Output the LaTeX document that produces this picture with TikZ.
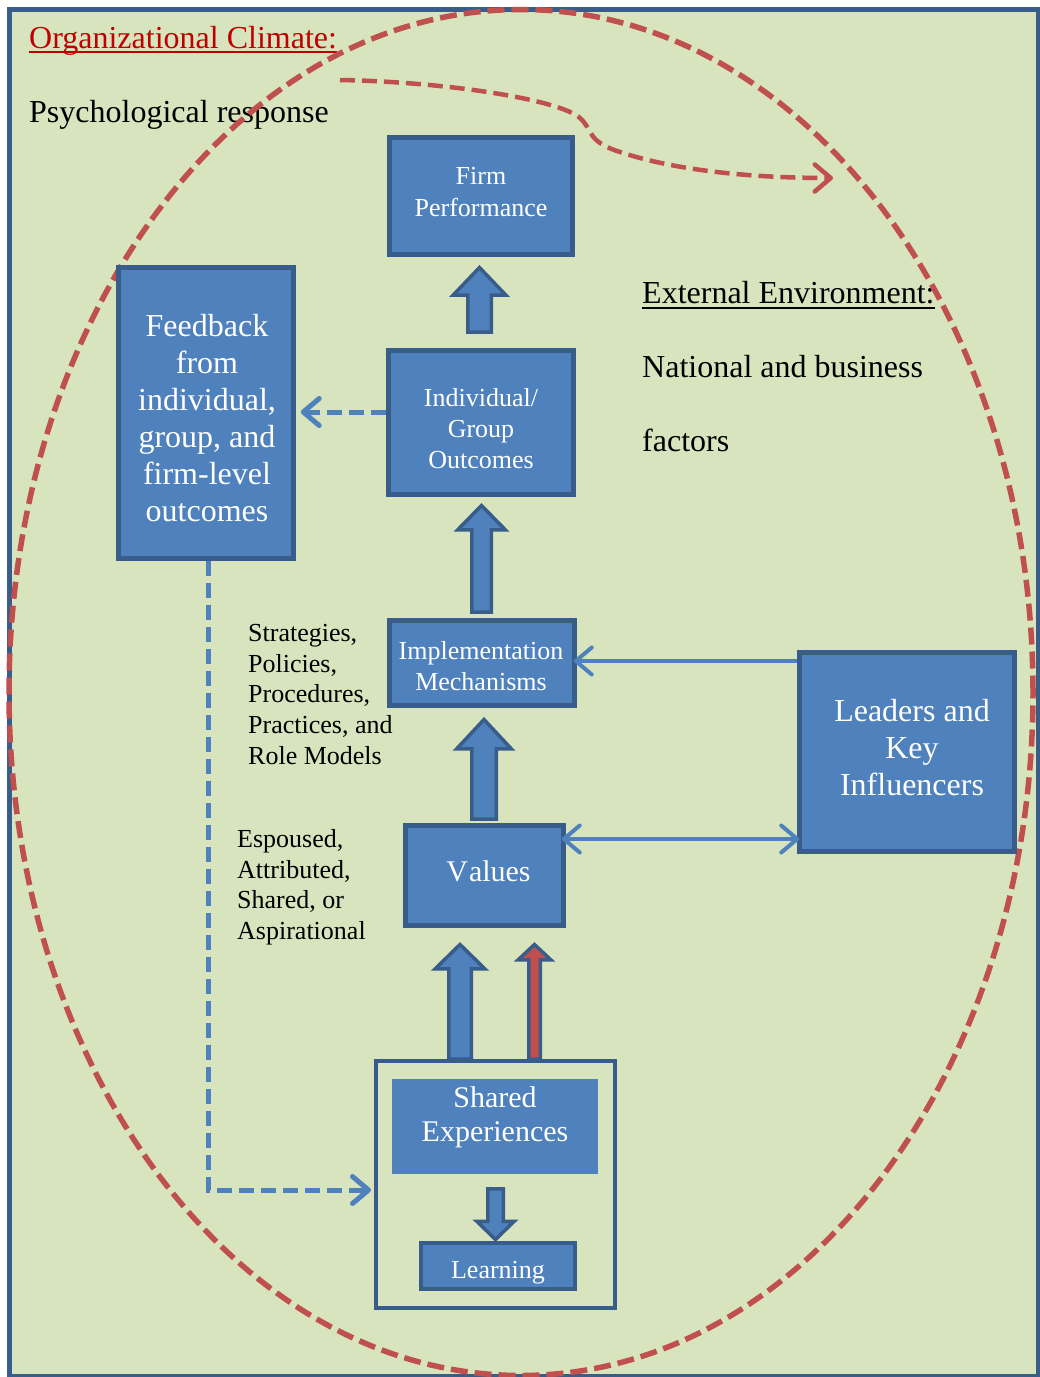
\documentclass[tikz,border=0pt]{standalone}
\usepackage{fontspec}
\setmainfont{Liberation Serif}
\usetikzlibrary{arrows.meta,calc}

\definecolor{bgGreen}{HTML}{D7E4BD}
\definecolor{boxBlue}{HTML}{4F81BD}
\definecolor{edgeBlue}{HTML}{385D8A}
\definecolor{dashRed}{HTML}{C0504D}
\definecolor{titleRed}{HTML}{C00000}

% block arrow: fill, centre x, bottom y, head base y, tip y, half shaft, half head
\newcommand\blockarrowpoly[7]{%
  \filldraw[blockarrow, fill=#1] (#2-#6,#3) -- (#2-#6,#4) -- (#2-#7,#4) -- (#2,#5)
    -- (#2+#7,#4) -- (#2+#6,#4) -- (#2+#6,#3) -- cycle;}

\begin{document}
\begin{tikzpicture}[x=1pt,y=-1pt,
  bluebox/.style={draw=edgeBlue, line width=4.5pt, fill=boxBlue, inner sep=0pt},
  boxtext/.style={text=white, align=center, inner sep=0pt},
  small/.style={font=\fontsize{26}{31}\selectfont},
  large/.style={font=\fontsize{32}{37}\selectfont},
  plaintext/.style={inner sep=0pt, text=black, font=\fontsize{32}{37}\selectfont},
  sidetext/.style={inner sep=0pt, text=black, align=left, anchor=north west,
    font=\fontsize{26}{30.75}\selectfont},
  blockarrow/.style={draw=edgeBlue, line width=3.5pt, line join=miter},
  chevron/.style={-{Straight Barb[length=16pt,width=27pt,round]}},
  dashlink/.style={draw=boxBlue, line width=5pt, dash pattern=on 15pt off 7pt, chevron},
  solidlink/.style={draw=boxBlue, line width=4pt},
  climate/.style={draw=dashRed, line width=5.5pt, dash pattern=on 17pt off 7pt},
]
\fill[white] (0,0) rectangle (1040,1377);
\useasboundingbox (0,0) rectangle (1040,1377);

% frame
\draw[edgeBlue, line width=5pt, fill=bgGreen] (9.5,9.5) rectangle (1038,1376);

% free texts
\node[plaintext, text=titleRed, anchor=base west] (orgclimate) at (29,48) {Organizational Climate:};
\draw[titleRed, line width=2pt] ([yshift=-4pt]orgclimate.base west) -- ([yshift=-4pt]orgclimate.base east);
\node[plaintext, anchor=base west] (psych) at (29,122) {Psychological response};

\node[plaintext, anchor=base west] (extenv) at (642,303) {External Environment:};
\draw[black, line width=2pt] ([yshift=-5pt]extenv.base west) -- ([yshift=-5pt]extenv.base east);
\node[plaintext, anchor=base west] (national) at (642,377) {National and business};
\node[plaintext, anchor=base west] (factors) at (642,451) {factors};

\node[sidetext] (mechlist) at (248,624) {Strategies,\\Policies,\\Procedures,\\Practices, and\\Role Models};
\node[sidetext] (valuelist) at (237,829) {Espoused,\\Attributed,\\Shared, or\\Aspirational};

% climate boundary
\draw[climate] (521pt,-692.5pt) ellipse [x radius=512pt, y radius=683pt];

% psychological response arrow
\draw[dashRed, line width=4.5pt, dash pattern=on 15pt off 7pt, chevron]
  (340,80) .. controls (450,82) and (560,100) .. (580,118)
  .. controls (594,131) and (586,141) .. (620,152)
  .. controls (680,172) and (760,178) .. (833,178);

% boxes
\node[bluebox, minimum width=183pt, minimum height=117pt,
  label={[boxtext, small, yshift=4pt]center:Firm\\[1pt]Performance}] (firm) at (481,196) {};
\node[bluebox, minimum width=185pt, minimum height=144pt,
  label={[boxtext, small, yshift=-6pt]center:Individual/\\Group\\Outcomes}] (indiv) at (481,422.5) {};
\node[bluebox, minimum width=175pt, minimum height=291pt,
  label={[boxtext, large, yshift=-5pt, xshift=1pt]center:Feedback\\from\\individual,\\group, and\\firm-level\\outcomes}] (feedback) at (206,413) {};
\node[bluebox, minimum width=185pt, minimum height=85pt,
  label={[boxtext, small, yshift=-3pt, xshift=-1pt]center:Implementation\\Mechanisms}] (impl) at (482,663) {};
\node[bluebox, minimum width=158pt, minimum height=100pt,
  label={[boxtext, font=\fontsize{30}{34}\selectfont, yshift=4pt, xshift=4pt]center:V\kern1ptalues}] (values) at (484.5,875.5) {};
\node[bluebox, minimum width=215pt, minimum height=199pt,
  label={[boxtext, large, yshift=4pt, xshift=5pt]center:Leaders and\\Key\\Influencers}] (leaders) at (907,752) {};

\node[draw=edgeBlue, line width=4pt, fill=bgGreen, minimum width=239pt, minimum height=247pt] (sharedbox) at (495.5,1184.5) {};
\node[fill=boxBlue, minimum width=206pt, minimum height=95pt, inner sep=0pt,
  label={[boxtext, font=\fontsize{30}{34}\selectfont, yshift=9.5pt]center:Shared\\Experiences}] (sharedexp) at (495,1126.5) {};
\node[bluebox, line width=4pt, minimum width=154pt, minimum height=46pt,
  label={[boxtext, small, yshift=-6.5pt]center:Learning}] (learning) at (498,1266) {};

% block arrows between the boxes
\blockarrowpoly{boxBlue}{479.5}{332}{295}{267.5}{11.75}{26.25}
\blockarrowpoly{boxBlue}{481.5}{612}{529.75}{505.5}{9.75}{23.75}
\blockarrowpoly{boxBlue}{484}{819}{748.75}{719.5}{12.25}{27.25}
\blockarrowpoly{boxBlue}{460}{1059}{968.75}{944.5}{11.25}{24.75}
\blockarrowpoly{dashRed}{534.5}{1059}{959.75}{944.5}{5.75}{16.25}
\blockarrowpoly{boxBlue}{495.5}{1188.75}{1221.25}{1239.5}{7.75}{18.75}

% line connectors
\coordinate (y412) at (0,412);
\coordinate (y661) at (0,661);
\coordinate (y839) at (0,839);
\coordinate (y1190) at (0,1190);

\draw[dashlink, shorten >=5pt] (indiv.west |- y412) -- (feedback.east |- y412);
\draw[dashlink, shorten >=3pt] ([xshift=2pt]feedback.south) |- (sharedbox.west |- y1190);
\draw[solidlink, chevron, shorten >=-3pt] (leaders.west |- y661) -- (impl.east |- y661);
\draw[solidlink, {Straight Barb[length=16pt,width=27pt,round]}-{Straight Barb[length=16pt,width=27pt,round]},
  shorten <=-4pt, shorten >=-2pt] (values.east |- y839) -- (leaders.west |- y839);
\end{tikzpicture}
\end{document}
